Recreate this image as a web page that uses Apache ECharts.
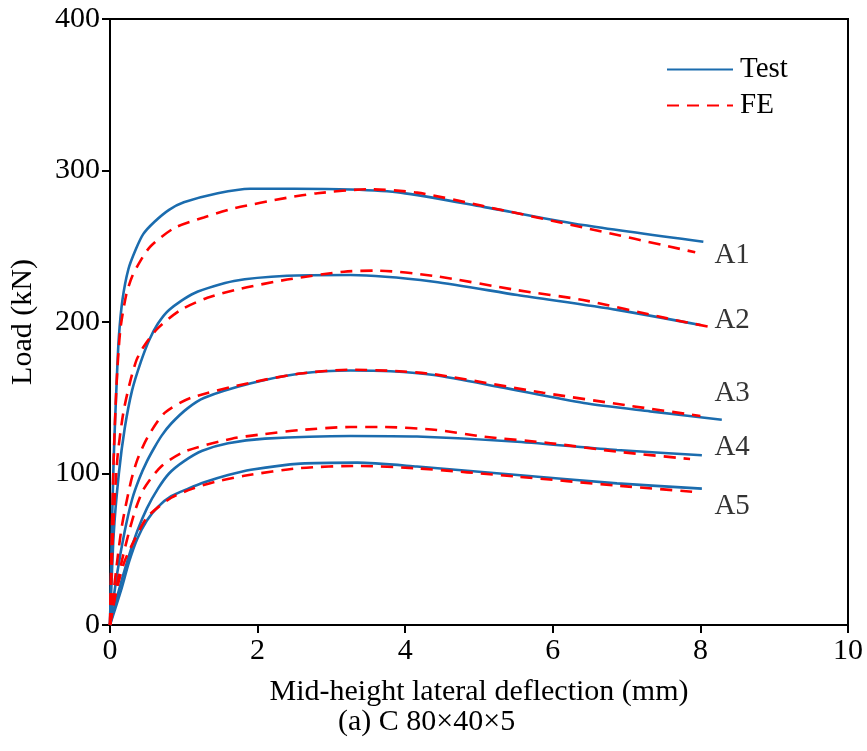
<!DOCTYPE html>
<html>
<head>
<meta charset="utf-8">
<script src="https://cdn.jsdelivr.net/npm/echarts@6/dist/echarts.min.js"></script>
<style>
html,body{margin:0;padding:0;background:#fff;}
#c{width:867px;height:751px;}
</style>
</head>
<body>
<div id="c"></div>
<script>
// Data (x: mid-height lateral deflection in mm, y: load in kN)
var testA1 = [[0,0],[0.02,50],[0.05,110],[0.09,160],[0.12,190],[0.17,215],[0.25,235],[0.35,248],[0.45,258],[0.6,266],[0.8,274],[1.0,279],[1.46,285],[1.9,288],[2.5,288],[3.26,287.5],[3.94,285.4],[5.06,276],[6.41,264],[8.04,253]];
var feA1   = [[0,0],[0.02,50],[0.05,110],[0.09,160],[0.14,195],[0.22,218],[0.3,230],[0.42,241],[0.55,250],[0.87,262],[1.27,269],[1.68,275],[2.4,282],[2.81,285],[3.49,287.6],[4.16,285.4],[5.06,276.5],[6.41,262.4],[7.93,246]];
var testA2 = [[0,0],[0.05,60],[0.12,100],[0.2,130],[0.3,155],[0.42,174],[0.53,188],[0.65,199],[0.8,208],[1.14,219],[1.68,227],[2.4,230.5],[3.26,231],[4.39,226.6],[5.52,217.8],[6.87,208],[8.0,198]];
var feA2   = [[0,0],[0.04,60],[0.1,110],[0.18,140],[0.27,160],[0.36,175],[0.46,184],[0.65,196],[0.96,208],[1.32,216],[1.77,222],[2.4,228],[3.17,233.2],[3.62,233.9],[4.39,230.4],[5.52,221],[6.41,214.5],[7.55,202.4],[8.1,197]];
var testA3 = [[0,0],[0.1,35],[0.2,62],[0.3,83],[0.4,97],[0.5,108],[0.6,117],[0.7,125],[0.83,133],[1.05,143],[1.28,150],[1.91,159.5],[2.58,166],[3.26,168],[3.8,167.5],[4.39,165],[5.29,157],[6.42,146.5],[7.32,141],[8.29,135.5]];
var feA3   = [[0,0],[0.08,35],[0.16,65],[0.28,94],[0.37,109],[0.51,124],[0.74,140],[1.1,150],[1.91,160],[2.58,166],[3.26,168.5],[3.8,167.8],[4.39,165.5],[5.87,153.3],[7.0,145],[8.0,138]];
var testA4 = [[0,0],[0.11,21],[0.24,43],[0.37,62],[0.5,77],[0.65,90],[0.8,100],[1.0,108],[1.25,115],[1.6,120],[2.1,123],[3.26,124.8],[4.16,124.4],[5.52,121],[6.87,115.5],[8.02,112]];
var feA4   = [[0,0],[0.07,20],[0.15,40],[0.25,60],[0.35,77],[0.46,90],[0.69,104.5],[1.01,114.5],[1.65,123],[2.09,126],[2.58,128.7],[3.26,130.7],[3.7,130.7],[4.43,128.7],[5.07,124.3],[5.97,120],[6.87,114.4],[7.86,109.6]];
var testA5 = [[0,0],[0.15,23],[0.26,42],[0.37,57],[0.5,69],[0.65,78],[0.83,85],[1.06,90],[1.3,94.5],[1.6,99],[1.91,102.5],[2.58,106.5],[3.35,107.2],[4.16,104.6],[5.52,99],[6.87,93.5],[8.02,90]];
var feA5   = [[0,0],[0.08,21],[0.19,41],[0.33,56],[0.51,71.5],[0.83,84],[1.12,90],[1.42,94.5],[1.82,98.5],[2.58,103.6],[3.35,105],[4.16,103.4],[5.52,97.9],[6.87,92],[7.93,87.8]];

var curveLabels = ['A1','A2','A3','A4','A5'];
var curveLabelX = [8.43, 8.43, 8.43, 8.43, 8.43];
var curveLabelY = [244, 201, 153, 117.5, 78.5];

var xTicks = [0, 2, 4, 6, 8, 10];
var yTicks = [0, 100, 200, 300, 400];

var BLUE = '#1b6cae', RED = '#ff0000';
var FONT = 'Liberation Serif';

function testSeries(d){
  return {name:'Test', type:'line', data:d, symbol:'none', smooth:0.25, z:3,
    lineStyle:{color:BLUE, width:2.6}, itemStyle:{color:BLUE}};
}
function feSeries(d){
  return {name:'FE', type:'line', data:d, symbol:'none', smooth:0.25, z:4,
    lineStyle:{color:RED, width:2.6, type:[12,8]}, itemStyle:{color:RED}};
}

var labelData = curveLabels.map(function(t,i){ return {value:[curveLabelX[i], curveLabelY[i]], name:t}; });

var chart = echarts.init(document.getElementById('c'), null, {renderer:'canvas'});
chart.setOption({
  animation:false,
  backgroundColor:'#fff',
  grid:{left:109, right:19, top:19, bottom:126, show:true, borderColor:'#000', borderWidth:2},
  legend:{
    data:['Test','FE'], orient:'vertical', left:661, top:50, itemGap:7,
    itemWidth:66, itemHeight:28,
    itemStyle:{opacity:0},
    textStyle:{fontFamily:FONT, fontSize:29, color:'#000', padding:[0,0,0,2]}
  },
  xAxis:{
    type:'value', min:0, max:10, interval:2,
    name:'Mid-height lateral deflection (mm)', nameLocation:'middle', nameGap:52,
    nameTextStyle:{fontFamily:FONT, fontSize:30, color:'#000'},
    axisLine:{lineStyle:{color:'#000', width:2}},
    axisTick:{show:true, inside:false, length:8, lineStyle:{color:'#000', width:2}},
    axisLabel:{fontFamily:FONT, fontSize:30, color:'#000', margin:11,
      formatter:function(v){ return xTicks.indexOf(v)>=0 ? String(v) : ''; }},
    splitLine:{show:false}
  },
  yAxis:{
    type:'value', min:0, max:400, interval:100,
    name:'Load (kN)', nameLocation:'middle', nameGap:72,
    nameTextStyle:{fontFamily:FONT, fontSize:30, color:'#000'},
    axisLine:{show:true, lineStyle:{color:'#000', width:2}},
    axisTick:{show:true, inside:false, length:8, lineStyle:{color:'#000', width:2}},
    axisLabel:{fontFamily:FONT, fontSize:30, color:'#000', margin:10,
      formatter:function(v){ return yTicks.indexOf(v)>=0 ? String(v) : ''; }},
    splitLine:{show:false}
  },
  graphic:[{
    type:'text', left:338, top:707,
    style:{text:'(a) C 80×40×5', fontFamily:FONT, fontSize:30, fill:'#000'}
  }],
  series:[
    testSeries(testA1), feSeries(feA1),
    testSeries(testA2), feSeries(feA2),
    testSeries(testA3), feSeries(feA3),
    testSeries(testA4), feSeries(feA4),
    testSeries(testA5), feSeries(feA5),
    {name:'labels', type:'scatter', data:labelData, symbolSize:1, itemStyle:{color:'rgba(0,0,0,0)'},
     label:{show:true, position:'inside', formatter:function(p){return p.name;},
       fontFamily:FONT, fontSize:29, color:'#000'}, z:5, silent:true}
  ]
});
</script>
</body>
</html>
